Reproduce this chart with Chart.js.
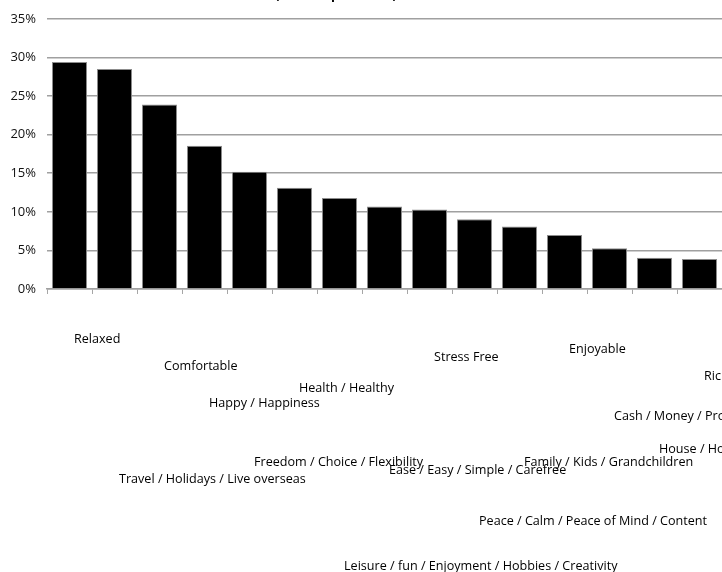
<!DOCTYPE html>
<html>
<head>
<meta charset="utf-8">
<script src="https://cdn.jsdelivr.net/npm/chart.js@4/dist/chart.umd.min.js"></script>
<style>
  html, body { margin: 0; padding: 0; background: #ffffff; overflow: hidden; }
  #wrap { width: 722px; height: 572px; position: relative; }
</style>
</head>
<body>
<div id="wrap"><canvas id="chart"></canvas></div>
<script>
// Words people associate with retirement, share of respondents
const categories = [
  "Relaxed",
  "Travel / Holidays / Live overseas",
  "Comfortable",
  "Happy / Happiness",
  "Freedom / Choice / Flexibility",
  "Health / Healthy",
  "Leisure / fun / Enjoyment / Hobbies / Creativity",
  "Ease / Easy / Simple / Carefree",
  "Stress Free",
  "Peace / Calm / Peace of Mind / Content",
  "Family / Kids / Grandchildren",
  "Enjoyable",
  "Cash / Money / Profit",
  "House / Home / Properties",
  "Rich / Wealthy"
];
const shares = [29.4, 28.5, 23.9, 18.55, 15.2, 13.1, 11.8, 10.7, 10.3, 9.05, 8.1, 7.0, 5.27, 4.04, 3.9];
const yTicks = [0, 5, 10, 15, 20, 25, 30, 35];
const titleText = "(% of respondents)";

const labelFont = "12.6px 'Open Sans', sans-serif";

// Category names are laid out flat, stepped down by their own length
const categoryLabels = {
  id: "categoryLabels",
  afterDraw(chart) {
    const ctx = chart.ctx;
    const xs = chart.scales.x;
    const base = chart.chartArea.bottom;
    ctx.save();
    ctx.font = labelFont;
    ctx.fillStyle = "#000000";
    ctx.textAlign = "left";
    ctx.textBaseline = "middle";
    categories.forEach((name, i) => {
      const w = ctx.measureText(name).width;
      ctx.fillText(name, xs.getPixelForValue(i) + 4.5, base + w + 4);
    });
    ctx.restore();
  }
};

// Title sits above the canvas edge; only its lowest strokes remain
const topTitle = {
  id: "topTitle",
  afterDraw(chart) {
    const ctx = chart.ctx;
    ctx.save();
    ctx.font = "bold 13px 'Open Sans', sans-serif";
    ctx.fillStyle = "#000000";
    ctx.textAlign = "center";
    ctx.textBaseline = "alphabetic";
    ctx.fillText(titleText, 336, -1);
    ctx.restore();
  }
};

new Chart(document.getElementById("chart"), {
  type: "bar",
  data: {
    labels: categories,
    datasets: [{
      data: shares,
      backgroundColor: "#000000",
      borderColor: "#8c8c8c",
      borderWidth: 1,
      categoryPercentage: 1.0,
      barPercentage: 0.78
    }]
  },
  options: {
    responsive: true,
    maintainAspectRatio: false,
    animation: false,
    layout: { padding: { top: 16, right: 0, bottom: 283, left: 0 } },
    plugins: {
      legend: { display: false },
      tooltip: { enabled: false },
      title: { display: false }
    },
    scales: {
      x: {
        ticks: { display: false },
        grid: {
          offset: true,
          drawOnChartArea: false,
          drawTicks: true,
          tickLength: 5,
          color: "#a6a6a6",
          lineWidth: 1
        },
        border: { display: true, color: "#a0a0a0", width: 1.5 },
        afterFit(scale) { scale.height = 0; }
      },
      y: {
        min: 0,
        max: 35,
        afterBuildTicks(scale) { scale.ticks = yTicks.map(v => ({ value: v })); },
        ticks: {
          callback: v => v + "%",
          font: { family: "'Open Sans', sans-serif", size: 13 },
          color: "#111111",
          padding: 11
        },
        grid: { color: "#a0a0a0", lineWidth: 1.5, drawTicks: false },
        border: { display: false },
        afterFit(scale) { scale.width = 47; }
      }
    }
  },
  plugins: [categoryLabels, topTitle]
});
</script>
</body>
</html>
